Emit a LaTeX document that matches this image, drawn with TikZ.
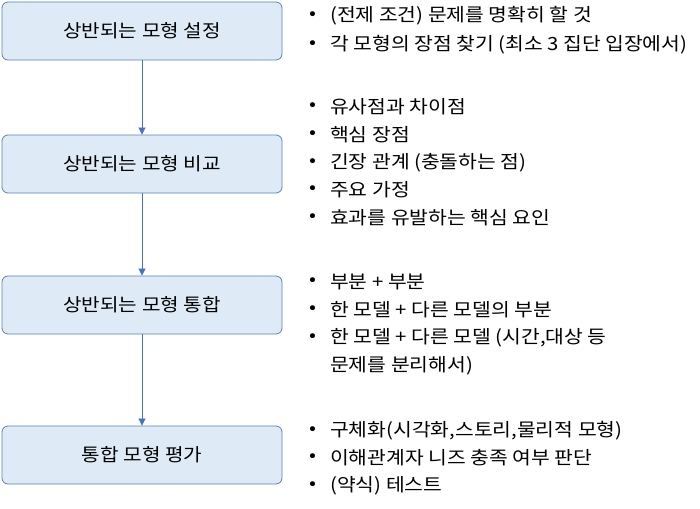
\documentclass[tikz,border=0pt]{standalone}
\usepackage{fontspec}
\setmainfont{Noto Sans CJK KR}[FakeStretch=1.12]
\usetikzlibrary{arrows.meta}
\definecolor{boxfill}{HTML}{DEEBF7}
\definecolor{boxline}{HTML}{5B7FB8}
\definecolor{arr}{HTML}{4472C4}
\tikzset{
  stage/.style={draw=boxline, fill=boxfill, rounded corners=6pt, line width=0.8pt, minimum width=280pt, minimum height=58pt, font=\fontsize{18}{20}\selectfont},
  item/.style={anchor=west, font=\fontsize{18.2}{20}\selectfont, inner sep=0pt},
  flow/.style={draw=arr, line width=0.7pt, -{Triangle[length=7pt,width=7pt]}}
}
\begin{document}
\begin{tikzpicture}[x=1pt,y=-1pt]
\useasboundingbox (0,0) rectangle (700,508);
\node[stage] (b1) at (142,31) {상반되는 모형 설정};
\node[stage] (b2) at (142,164) {상반되는 모형 비교};
\node[stage] (b3) at (142,305) {상반되는 모형 통합};
\node[stage] (b4) at (142,455) {통합 모형 평가};
\draw[flow] (b1) -- (b2);
\draw[flow] (b2) -- (b3);
\draw[flow] (b3) -- (b4);
\foreach \n/\y/\t in {a1/16/{(전제 조건) 문제를 명확히 할 것}, a2/45/{각 모형의 장점 찾기 (최소 3 집단 입장에서)},
  c1/107/{유사점과 차이점}, c2/135/{핵심 장점}, c3/163/{긴장 관계 (충돌하는 점)}, c4/190/{주요 가정}, c5/218/{효과를 유발하는 핵심 요인},
  d1/282/{부분 + 부분}, d2/310/{한 모델 + 다른 모델의 부분}, d3/338/{한 모델 + 다른 모델 (시간,대상 등},
  e1/431/{구체화(시각화,스토리,물리적 모형)}, e2/458/{이해관계자 니즈 충족 여부 판단}, e3/486/{(약식) 테스트}}
{
  \node[item] (\n) at (330,\y) {\t};
  \node[item, anchor=center] (\n b) at (313,\y) {•};
}
\node[item] (d4) at (330,366) {문제를 분리해서)};
\end{tikzpicture}
\end{document}
